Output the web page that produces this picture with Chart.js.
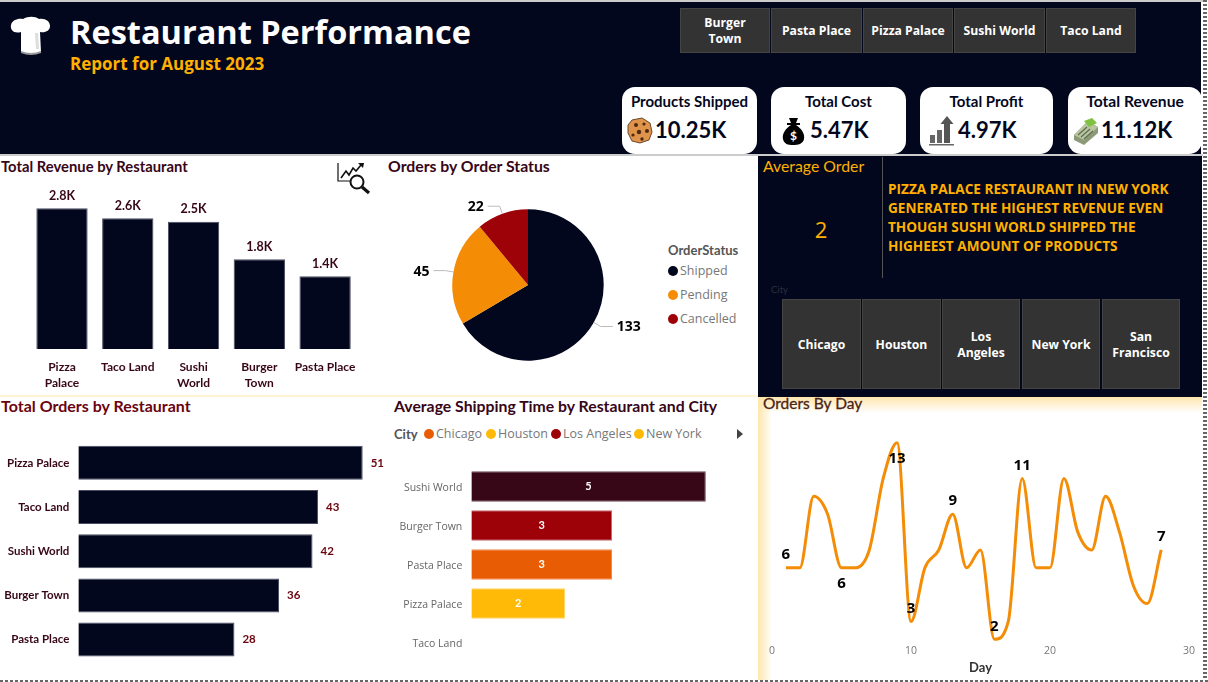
<!DOCTYPE html>
<html>
<head>
<meta charset="utf-8">
<title>Restaurant Performance</title>
<script src="https://cdn.jsdelivr.net/npm/chart.js@4/dist/chart.umd.js"></script>
<style>
  html, body { margin: 0; padding: 0; background: #fff; overflow: hidden; }
  #page { position: relative; width: 1208px; height: 682px; overflow: hidden; background: #fff; }
  #page div, #page canvas, #page svg { position: absolute; }
  .navy { background: #03071e; }
  .din { font-family: Lato, sans-serif; font-weight: 700; white-space: nowrap; }
  .seg { font-family: "Open Sans", sans-serif; white-space: nowrap; }
  .btn { background: #333; border: 1px solid #444; box-sizing: border-box; color: #fff; display: flex; padding-top: 1px;
         align-items: center; justify-content: center; text-align: center; font: 700 12.2px/16px "Open Sans", sans-serif; }
  .card { background: #fff; border-radius: 13px; top: 87px; height: 67px; }
  .cardTitle { top: 5px; left: 0; width: 100%; text-align: center; font: 700 15px/18px Lato, sans-serif; color: #03071e; }
  .cardValue { top: 28px; font: 700 22px/30px Lato, sans-serif; color: #03071e; white-space: nowrap; }
  .panelTitle { font: 700 15.5px/20px Lato, sans-serif; white-space: nowrap; }
  .dot { width: 10px; height: 10px; border-radius: 50%; }
</style>
</head>
<body>
<div id="page">
  <div style="left:0;top:0;width:1203px;height:2px;background:#ccc"></div>
  <div class="navy" style="left:0;top:2px;width:1201px;height:152px"></div>
  <div style="left:0;top:154px;width:1203px;height:2px;background:#ccc"></div>
  <div class="navy" style="left:758px;top:156px;width:444px;height:239px"></div>

  <svg style="left:10px;top:16px" width="41" height="40" viewBox="0 0 41 40">
    <path d="M11 16 C4 18 0 14 1 9 C2 4 8 2 13 3 C18 0 25 0 29 3 C35 2 40 5 40 10 C40 15 35 17 30 16 L31 36 Q21 40 11 36 Z" fill="#fff"/>
    <path d="M11 35 Q21 39 31 35 L31 37 Q21 41 11 37 Z" fill="#999"/>
    <path d="M25 17 L26 33 L29 33 L28 17 Z" fill="#ddd"/>
  </svg>
  <div class="seg" style="left:70px;top:9px;font-size:32.5px;line-height:46px;font-weight:700;color:#fff">Restaurant Performance</div>
  <div class="seg" style="left:70px;top:52px;font-size:17px;line-height:24px;font-weight:700;color:#ffb000">Report for August 2023</div>

  <div class="btn din" style="left:680px;top:8px;width:90px;height:45px">Burger<br>Town</div>
  <div class="btn din" style="left:771px;top:8px;width:91px;height:45px">Pasta Place</div>
  <div class="btn din" style="left:863px;top:8px;width:90px;height:45px">Pizza Palace</div>
  <div class="btn din" style="left:954px;top:8px;width:91px;height:45px">Sushi World</div>
  <div class="btn din" style="left:1046px;top:8px;width:90px;height:45px">Taco Land</div>

  <div class="card" style="left:622px;width:135px">
    <div class="cardTitle">Products Shipped</div>
    <svg style="left:5px;top:30px" width="26" height="27" viewBox="0 0 26 27">
      <path d="M5 3 L15 1 L23 6 L25 15 L22 23 L13 26 L5 24 L1 16 L1 8 Z" fill="#e0934a" stroke="#6b4a2c"/>
      <circle cx="9" cy="8" r="2" fill="#4a2a12"/><circle cx="17" cy="7" r="1.6" fill="#4a2a12"/>
      <circle cx="20" cy="14" r="2" fill="#4a2a12"/><circle cx="12" cy="15" r="2.2" fill="#4a2a12"/>
      <circle cx="6" cy="18" r="1.6" fill="#4a2a12"/><circle cx="15" cy="22" r="1.7" fill="#4a2a12"/>
    </svg>
    <div class="cardValue" style="left:33px">10.25K</div>
  </div>
  <div class="card" style="left:771px;width:135px">
    <div class="cardTitle">Total Cost</div>
    <svg style="left:11px;top:30px" width="23" height="29" viewBox="0 0 23 29">
      <path d="M7 1 L16 1 L14 6 L18 6 L18 8 L14 8 C20 12 23 17 22 22 C21 27 16 28 11 28 C6 28 2 27 1 22 C0 17 3 12 9 8 L5 8 L5 6 L9 6 Z" fill="#000"/>
      <text x="11.5" y="23" text-anchor="middle" font-family="Lato" font-size="12" font-weight="700" fill="#fff">$</text>
    </svg>
    <div class="cardValue" style="left:39px">5.47K</div>
  </div>
  <div class="card" style="left:920px;width:133px">
    <div class="cardTitle">Total Profit</div>
    <svg style="left:9px;top:28px" width="25" height="31" viewBox="0 0 25 31">
      <rect x="1" y="20" width="5" height="8" fill="#666"/><rect x="8" y="15" width="5" height="13" fill="#666"/>
      <path d="M15 28 L15 9 L11.5 9 L18 1 L24.5 9 L21 9 L21 28 Z" fill="#555"/>
      <rect x="0" y="29" width="25" height="1.5" fill="#666"/>
    </svg>
    <div class="cardValue" style="left:38px">4.97K</div>
  </div>
  <div class="card" style="left:1068px;width:134px">
    <div class="cardTitle" style="font-size:15.6px">Total Revenue</div>
    <svg style="left:5px;top:31px" width="26" height="28" viewBox="0 0 26 28">
      <path d="M1 17 L15 3 L25 9 L25 15 L11 27 L1 22 Z" fill="#8d9a78"/>
      <path d="M1 17 L15 3 L25 9 L11 22 Z" fill="#b9c4a0"/>
      <path d="M11 3 L19 0 L24 5 L16 9 Z" fill="#7fc241"/>
      <path d="M5 17 L14 9 M8 19 L17 11 M11 21 L20 13" stroke="#5d6b50" stroke-width="1.2"/>
    </svg>
    <div class="cardValue" style="left:33px">11.12K</div>
  </div>

  <div class="panelTitle" style="left:1px;top:156px;color:#370617;font-size:14.8px">Total Revenue by Restaurant</div>
  <svg style="left:336px;top:162px" width="35" height="33" viewBox="0 0 35 33">
    <path d="M2 1 L2 19 L17 19" fill="none" stroke="#111" stroke-width="1.2"/>
    <path d="M5 16 L10 9 L13 13 L17 6 L20 9 L25 3" fill="none" stroke="#111" stroke-width="1.6"/>
    <path d="M22 1 L28 1 L27 6 Z" fill="#111"/>
    <circle cx="21" cy="20" r="6.5" fill="#fff" stroke="#111" stroke-width="2"/>
    <path d="M26 25 L33 31" stroke="#111" stroke-width="3.2"/>
  </svg>
  <canvas id="revenueChart" width="385" height="220" style="left:0;top:175px"></canvas>

  <div class="panelTitle" style="left:388px;top:156px;color:#370617;font-size:15.8px">Orders by Order Status</div>
  <canvas id="statusChart" width="256" height="220" style="left:400px;top:175px"></canvas>
  <div id="statusLegend"></div>

  <div class="panelTitle" style="left:763px;top:156px;color:#ffb000;font-weight:400;font-size:15.8px">Average Order</div>
  <div class="seg" style="left:811px;top:213px;width:20px;text-align:center;font-size:22px;line-height:32px;color:#ffb000">2</div>
  <div style="left:882px;top:157px;width:1px;height:121px;background:#555"></div>
  <div class="seg" style="left:888px;top:179px;font-size:13.6px;line-height:19.1px;font-weight:700;color:#ffb000">PIZZA PALACE RESTAURANT IN NEW YORK<br>GENERATED THE HIGHEST REVENUE EVEN<br>THOUGH SUSHI WORLD SHIPPED THE<br>HIGHEEST AMOUNT OF PRODUCTS</div>
  <div class="din" style="left:771px;top:284px;font-size:9.5px;line-height:12px;font-weight:400;color:#2b2e3d">City</div>
  <div class="btn din" style="left:782px;top:299px;width:79px;height:90px">Chicago</div>
  <div class="btn din" style="left:862px;top:299px;width:79px;height:90px">Houston</div>
  <div class="btn din" style="left:942px;top:299px;width:78px;height:90px">Los<br>Angeles</div>
  <div class="btn din" style="left:1022px;top:299px;width:78px;height:90px">New York</div>
  <div class="btn din" style="left:1102px;top:299px;width:78px;height:90px">San<br>Francisco</div>

  <div style="left:0;top:395px;width:758px;height:2px;background:#fff3d6"></div>
  <div class="panelTitle" style="left:1px;top:396px;color:#6a040f;font-size:16px">Total Orders by Restaurant</div>
  <canvas id="ordersChart" width="385" height="260" style="left:0;top:415px"></canvas>

  <div class="panelTitle" style="left:394px;top:396px;color:#370617;font-size:15.8px">Average Shipping Time by Restaurant and City</div>
  <div id="cityLegend"></div>
  <canvas id="shippingChart" width="371" height="215" style="left:385px;top:460px"></canvas>

  <div style="left:758px;top:397px;width:14px;height:283px;background:linear-gradient(to right,#ffe6ad,#fff)"></div>
  <div style="left:758px;top:397px;width:444px;height:16px;background:linear-gradient(to bottom,#ffe6ad,rgba(255,255,255,0))"></div>
  <div class="navy" style="left:758px;top:395px;width:444px;height:2px"></div>
  <div class="panelTitle" style="left:763px;top:393px;color:#4a2418;font-weight:400;-webkit-text-stroke:.3px #4a2418">Orders By Day</div>
  <canvas id="dayChart" width="440" height="280" style="left:760px;top:400px"></canvas>

  <div style="left:1203px;top:0;width:4px;height:682px;background:repeating-linear-gradient(to bottom,#666 0 2px,#fff 2px 4px)"></div>
  <div style="left:0;top:680px;width:1208px;height:2px;background:repeating-linear-gradient(to right,#666 0 3px,#fff 3px 5px)"></div>
</div>

<script>
// Chart data
const revenueRestaurants = ['Pizza Palace', 'Taco Land', 'Sushi World', 'Burger Town', 'Pasta Place'];
const revenueValues = [2800, 2600, 2530, 1785, 1447];

const orderStatuses = ['Shipped', 'Pending', 'Cancelled'];
const orderStatusValues = [133, 45, 22];

const ordersRestaurants = ['Pizza Palace', 'Taco Land', 'Sushi World', 'Burger Town', 'Pasta Place'];
const ordersValues = [51, 43, 42, 36, 28];

const shippingRestaurants = ['Sushi World', 'Burger Town', 'Pasta Place', 'Pizza Palace', 'Taco Land'];
const shippingValues = [5, 3, 3, 2, null];

const legendCities = ['Chicago', 'Houston', 'Los Angeles', 'New York'];

const days = [1, 2, 3, 4, 5, 6, 7, 8, 9, 10, 11, 12, 13, 14, 15, 16, 17, 18, 19, 20, 21, 22, 23, 24, 25, 26, 27, 28];
const dayOrders = [6, 6, 10, 9, 6, 6, 7, 11, 13, 3, 6, 7, 9, 6, 7, 2, 3, 11, 6, 6, 11, 8, 7, 10, 8, 5, 4, 7];
const labelledDays = [1, 5, 9, 10, 13, 16, 18, 28];
const labelledDaysBelow = [5, 9];

// Colours
const NAVY = '#03071e';
const MAROON = '#370617';
const statusColors = [NAVY, '#f48c06', '#9d0208'];
const shippingColors = ['#370617', '#9d0208', '#e85d04', '#ffba08', '#ffba08'];
const shippingBorders = ['#6b4a57', '#c46a6e', '#f28a4e', '#ffd466', '#ffd466'];
const legendCityColors = ['#e85d04', '#ffba08', '#9d0208', '#ffba08'];

const DIN = 'Lato, sans-serif';
const SEGOE = '"Open Sans", sans-serif';

Chart.defaults.animation = false;
Chart.defaults.responsive = false;
Chart.defaults.devicePixelRatio = 1;
Chart.defaults.plugins.legend.display = false;
Chart.defaults.plugins.tooltip.enabled = false;

function splitLabel(name) {
    return name.split(' ');
}

/* 
    Draw the value next to each bar. place() returns x, y and align for a bar.
*/
function barLabels(font, color, place, format) {
    return {
        id: 'barLabels',
        afterDatasetsDraw(chart) {
            const ctx = chart.ctx;
            const data = chart.data.datasets[0].data;
            ctx.save();
            ctx.font = font;
            ctx.fillStyle = color;
            ctx.textBaseline = 'middle';
            chart.getDatasetMeta(0).data.forEach((bar, i) => {
                if (data[i] === null) return;
                const p = place(bar);
                ctx.textAlign = p.align;
                ctx.fillText(format ? format(data[i]) : data[i], p.x, p.y);
            });
            ctx.restore();
        }
    };
}

function hiddenValueScale(min, max) {
    return { display: false, min: min, max: max, grid: { display: false } };
}

function categoryYScale(width, font, color, labelOffset) {
    return {
        afterFit(scale) {
            scale.width = width;
            scale.paddingTop = 0;
            scale.paddingBottom = 0;
        },
        grid: { display: false, drawTicks: false },
        border: { display: false },
        ticks: { font: font, color: color, padding: 9, autoSkip: false, labelOffset: labelOffset }
    };
}

// Total Revenue by Restaurant
new Chart(document.getElementById('revenueChart'), {
    type: 'bar',
    data: {
        labels: revenueRestaurants.map(n => n === 'Taco Land' || n === 'Pasta Place' ? n : splitLabel(n)),
        datasets: [{
            data: revenueValues,
            backgroundColor: NAVY,
            borderColor: '#4a4d60',
            borderWidth: 1,
            barPercentage: 0.78,
            categoryPercentage: 1
        }]
    },
    options: {
        layout: { padding: { left: 29.1, right: 27, top: 23.25, bottom: 0 } },
        scales: {
            y: hiddenValueScale(0, 3000),
            x: {
                afterFit(scale) { scale.height = 46; },
                grid: { display: false, drawTicks: false },
                border: { display: false },
                ticks: {
                    font: { family: DIN, size: 12, weight: '700', lineHeight: 1.33 },
                    color: MAROON, padding: 10, autoSkip: false, maxRotation: 0
                }
            }
        }
    },
    plugins: [barLabels('700 12.5px ' + DIN, MAROON,
        bar => ({ x: bar.x, y: bar.y - 12.5, align: 'center' }),
        v => (v / 1000).toFixed(1) + 'K')]
});

// Orders by Order Status, with leader lines to the outside labels
const pieLeaderLabels = {
    id: 'pieLeaderLabels',
    afterDatasetsDraw(chart) {
        const ctx = chart.ctx;
        ctx.save();
        chart.getDatasetMeta(0).data.forEach((arc, i) => {
            const mid = (arc.startAngle + arc.endAngle) / 2;
            const r = arc.outerRadius;
            const dir = Math.cos(mid) >= 0 ? 1 : -1;
            const x1 = arc.x + Math.cos(mid) * r, y1 = arc.y + Math.sin(mid) * r;
            const x2 = arc.x + Math.cos(mid) * (r + 8), y2 = arc.y + Math.sin(mid) * (r + 8);
            const x3 = x2 + dir * 12;
            ctx.strokeStyle = '#bbb';
            ctx.lineWidth = 1;
            ctx.beginPath();
            ctx.moveTo(x1, y1);
            ctx.lineTo(x2, y2);
            ctx.lineTo(x3, y2);
            ctx.stroke();
            ctx.font = '700 14px ' + SEGOE;
            ctx.fillStyle = '#000';
            ctx.textBaseline = 'middle';
            ctx.textAlign = dir > 0 ? 'left' : 'right';
            ctx.fillText(orderStatusValues[i], x3 + dir * 4, y2 + 1);
        });
        ctx.restore();
    }
};

new Chart(document.getElementById('statusChart'), {
    type: 'pie',
    data: {
        labels: orderStatuses,
        datasets: [{
            data: orderStatusValues,
            backgroundColor: statusColors,
            borderWidth: 0,
            radius: 75.7
        }]
    },
    plugins: [pieLeaderLabels]
});

// Legend of the pie
const statusLegend = document.getElementById('statusLegend');
statusLegend.innerHTML = '<div class="din" style="left:668px;top:242px;font-size:13px;line-height:16px;color:#555">OrderStatus</div>'
    + orderStatuses.map((s, i) => {
        const y = 271 + i * 24;
        return '<div class="dot" style="left:668px;top:' + (y - 5) + 'px;background:' + statusColors[i] + '"></div>'
            + '<div class="seg" style="left:680px;top:' + (y - 9) + 'px;font-size:12.5px;line-height:18px;color:#777">' + s + '</div>';
    }).join('');

// Total Orders by Restaurant
new Chart(document.getElementById('ordersChart'), {
    type: 'bar',
    data: {
        labels: ordersRestaurants,
        datasets: [{
            data: ordersValues,
            backgroundColor: NAVY,
            borderColor: '#4a4d60',
            borderWidth: 1,
            barPercentage: 0.769,
            categoryPercentage: 1
        }]
    },
    options: {
        indexAxis: 'y',
        layout: { padding: { left: 0, right: 0, top: 25.7, bottom: 13.3 } },
        scales: {
            x: hiddenValueScale(0, 55),
            y: categoryYScale(78.3, { family: DIN, size: 11.5, weight: '700' }, MAROON, 0)
        }
    },
    plugins: [barLabels('700 11.5px ' + DIN, '#6a040f',
        bar => ({ x: bar.x + 8, y: bar.y, align: 'left' }))]
});

// Average Shipping Time by Restaurant and City
document.getElementById('cityLegend').innerHTML =
    '<div class="din" style="left:394px;top:426px;font-size:13px;line-height:16px;color:#555">City</div>'
    + [424, 486, 551, 634].map((x, i) => (
        '<div class="dot" style="left:' + x + 'px;top:429px;background:' + legendCityColors[i] + '"></div>'
        + '<div class="seg" style="left:' + (x + 12) + 'px;top:425px;font-size:12.5px;line-height:18px;color:#777">' + legendCities[i] + '</div>'
    )).join('')
    + '<svg style="left:736px;top:429px" width="8" height="10" viewBox="0 0 8 10"><path d="M1 0 L7 5 L1 10 Z" fill="#444"/></svg>';

new Chart(document.getElementById('shippingChart'), {
    type: 'bar',
    data: {
        labels: shippingRestaurants,
        datasets: [{
            data: shippingValues,
            backgroundColor: shippingColors,
            borderColor: shippingBorders,
            borderWidth: 1,
            barPercentage: 0.777,
            categoryPercentage: 1
        }]
    },
    options: {
        indexAxis: 'y',
        layout: { padding: { left: 0, right: 3.3, top: 7, bottom: 13 } },
        scales: {
            x: hiddenValueScale(0, 6),
            y: categoryYScale(86.3, { family: SEGOE, size: 10.5 }, '#666', 2)
        }
    },
    plugins: [barLabels('700 11px ' + DIN, '#fff',
        bar => ({ x: (bar.base + bar.x) / 2, y: bar.y, align: 'center' }))]
});

// Orders By Day
const dayLabels = {
    id: 'dayLabels',
    afterDatasetsDraw(chart) {
        const ctx = chart.ctx;
        const points = chart.getDatasetMeta(0).data;
        ctx.save();
        ctx.font = '700 15px ' + SEGOE;
        ctx.fillStyle = '#000';
        ctx.textAlign = 'center';
        ctx.textBaseline = 'middle';
        labelledDays.forEach(day => {
            const i = days.indexOf(day);
            const offset = labelledDaysBelow.includes(day) ? 16 : -13;
            ctx.fillText(dayOrders[i], points[i].x, points[i].y + offset);
        });
        ctx.restore();
    }
};

new Chart(document.getElementById('dayChart'), {
    type: 'line',
    data: {
        datasets: [{
            data: days.map((d, i) => ({ x: d, y: dayOrders[i] })),
            borderColor: '#f48c06',
            borderWidth: 3,
            pointRadius: 0,
            cubicInterpolationMode: 'monotone',
            clip: false
        }]
    },
    options: {
        layout: { padding: { left: 12, right: 11, top: 33.8, bottom: 0 } },
        scales: {
            y: hiddenValueScale(1.8, 13.5),
            x: {
                type: 'linear',
                min: 0,
                max: 30,
                afterFit(scale) { scale.height = 37.1; },
                grid: { display: false, drawTicks: false },
                border: { display: false },
                ticks: { stepSize: 10, font: { family: SEGOE, size: 10.5 }, color: '#777', padding: 2, maxRotation: 0 },
                title: {
                    display: true,
                    text: 'Day',
                    font: { family: DIN, size: 13, weight: '700' },
                    color: '#333',
                    padding: { top: 0, bottom: 4 }
                }
            }
        }
    },
    plugins: [dayLabels]
});
</script>
</body>
</html>
